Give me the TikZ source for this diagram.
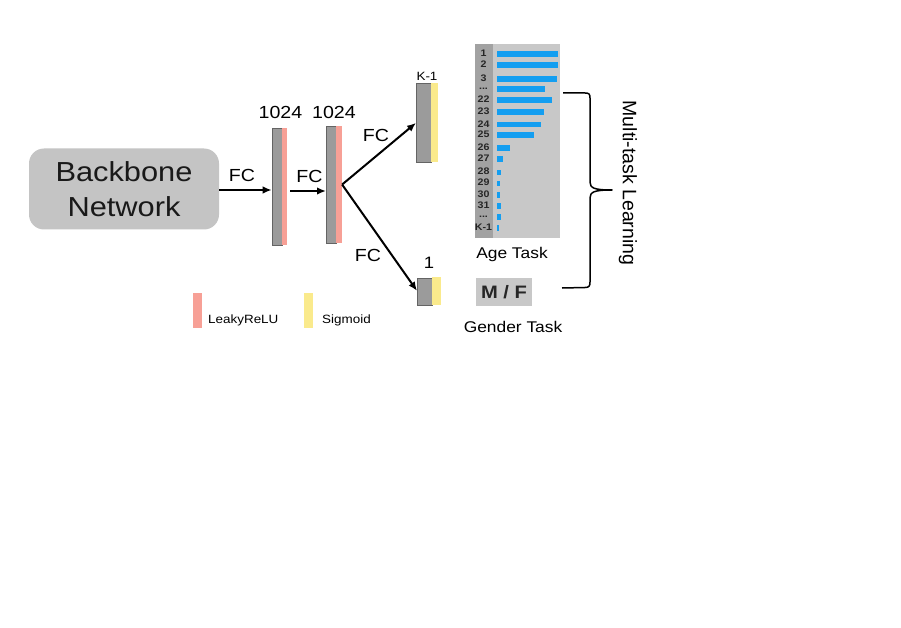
\documentclass[tikz,border=0pt]{standalone}
\usepackage{fontspec}
\setmainfont{Liberation Sans}[FakeStretch=1.12]
\newfontfamily\rotfont{Liberation Sans}
\usetikzlibrary{arrows.meta,calc}
\definecolor{bbgray}{RGB}{196,196,196}
\definecolor{laygray}{RGB}{155,155,155}
\definecolor{layedge}{RGB}{100,100,100}
\definecolor{pinkrelu}{RGB}{247,160,150}
\definecolor{yellowsig}{RGB}{250,234,140}
\definecolor{panelgray}{RGB}{200,200,200}
\definecolor{colgray}{RGB}{162,162,162}
\definecolor{barblue}{RGB}{20,158,240}
\newcommand\fsz[1]{\fontsize{#1}{#1}\selectfont}
\newcommand\threedots{...}
\tikzset{
  graylayer/.style={draw=layedge,line width=0.7pt,fill=laygray,inner sep=0pt,minimum width=#1,anchor=north west},
  actbar/.style={fill=#1,inner sep=0pt,anchor=north west},
  arr/.style={line width=2pt,-{Latex[length=9pt,width=7.5pt]}},
  lbl/.style={inner sep=0pt,text=black},
  rowlbl/.style={inner sep=0pt,font=\bfseries\fsz{9.5},text=black!85},
  bluebar/.style={fill=barblue,draw=none}
}
\begin{document}
\begin{tikzpicture}[x=1pt,y=-1pt]
\useasboundingbox (0,0) rectangle (901,628);
\fill[white] (0,0) rectangle (901,628);

% backbone
\node[fill=bbgray,rounded corners=15pt,minimum width=190pt,minimum height=81pt,inner sep=0pt,align=center,font=\fontsize{27.5}{35}\selectfont,text=black!90]
  (bb) at (124,189) {Backbone\\Network};

% layer 1
\node[graylayer=10pt,minimum height=117pt] (l1) at (271.7,128) {};
\node[actbar=pinkrelu,minimum width=5pt,minimum height=117pt] (p1) at (281.7,128) {};
% layer 2
\node[graylayer=10pt,minimum height=116.7pt] (l2) at (326,126) {};
\node[actbar=pinkrelu,minimum width=5.7pt,minimum height=116.7pt] (p2) at (336,126) {};
% top output
\node[graylayer=15pt,minimum height=79pt] (t) at (416,83) {};
\node[actbar=yellowsig,minimum width=7pt,minimum height=79pt] (ty) at (431,83) {};
% bottom output
\node[graylayer=15pt,minimum height=27pt] (b) at (417,278) {};
\node[actbar=yellowsig,minimum width=8.7pt,minimum height=28pt] (by) at (432,277) {};

% labels
\node[lbl,font=\fsz{17.5}] (n1) at (280.5,112.5) {1024};
\node[lbl,font=\fsz{17.5}] (n2) at (334,112) {1024};
\node[lbl,font=\fsz{12}] (nk) at (427,76) {K-1};
\node[lbl,font=\fsz{16.5}] (none) at (429,263) {1};

% arrows
\coordinate (a1s) at (219,190);
\draw[arr] (a1s) -- (a1s -| l1.west);
\coordinate (a2s) at (290,191);
\draw[arr] (a2s) -- (a2s -| l2.west);
\draw[arr] (p2.east) -- (t.west);
\draw[arr] (p2.east) -- ($(b.west)+(0,-1)$);

\node[lbl,font=\fsz{17.5}] (fc1) at (242,175.5) {FC};
\node[lbl,font=\fsz{17.5}] (fc2) at (309.5,176.5) {FC};
\node[lbl,font=\fsz{17.5}] (fc3) at (376,135) {FC};
\node[lbl,font=\fsz{17.5}] (fc4) at (368,255) {FC};

% legend
\node[actbar=pinkrelu,minimum width=9pt,minimum height=35pt] (legr) at (193,293) {};
\node[lbl,font=\fsz{12},anchor=west] (legrt) at (208,320.5) {LeakyReLU};
\node[actbar=yellowsig,minimum width=9pt,minimum height=35pt] (legy) at (304,293) {};
\node[lbl,font=\fsz{12},anchor=west] (legyt) at (322,320.5) {Sigmoid};

% age panel
\node[fill=panelgray,inner sep=0pt,minimum width=85pt,minimum height=194pt,anchor=north west] (age) at (475,44) {};
\node[fill=colgray,inner sep=0pt,minimum width=18pt,minimum height=194pt,anchor=north west] (col) at (475,44) {};
\foreach \lab/\yy/\ex in {1/54.3/558.3, 2/65.3/558.3, 3/79/556.7, \threedots/89.3/545, 22/100.3/552.3, 23/112.3/544, 24/124.7/540.7, 25/135.3/534.3, 26/148.3/510, 27/159.3/503.3, 28/172.7/501, 29/183.7/500, 30/195/500, 31/206/500.7, \threedots/217.3/501, K-1/228.3/499.3}{
  \fill[barblue] (496.7,\yy-2.8) rectangle (\ex,\yy+2.8);
  \node[rowlbl] at (483.5,\yy-1) {\lab};
}
\node[lbl,font=\fsz{15.5}] (agetxt) at (512,254) {Age Task};

% gender
\node[fill=panelgray,inner sep=0pt,minimum width=56pt,minimum height=28pt,font=\bfseries\fsz{18},text=black!85] (mf) at (504,292) {M / F};
\node[lbl,font=\fsz{15.5}] (gtxt) at (513,327) {Gender Task};

% brace
\draw[line width=1.5pt,line join=round]
  (563,93) -- (585,93) .. controls (589,93) and (590,94) .. (590,98)
  -- (590,182) .. controls (590,188) and (594,190) .. (612,190)
  .. controls (594,190) and (590,192) .. (590,198)
  -- (590,282) .. controls (590,286) and (589,287.5) .. (585,287.5) -- (562,288);
\node[lbl,rotate=-90,font=\rotfont\fsz{19.5}] (mtl) at (628,183) {Multi-task Learning};
\end{tikzpicture}
\end{document}
